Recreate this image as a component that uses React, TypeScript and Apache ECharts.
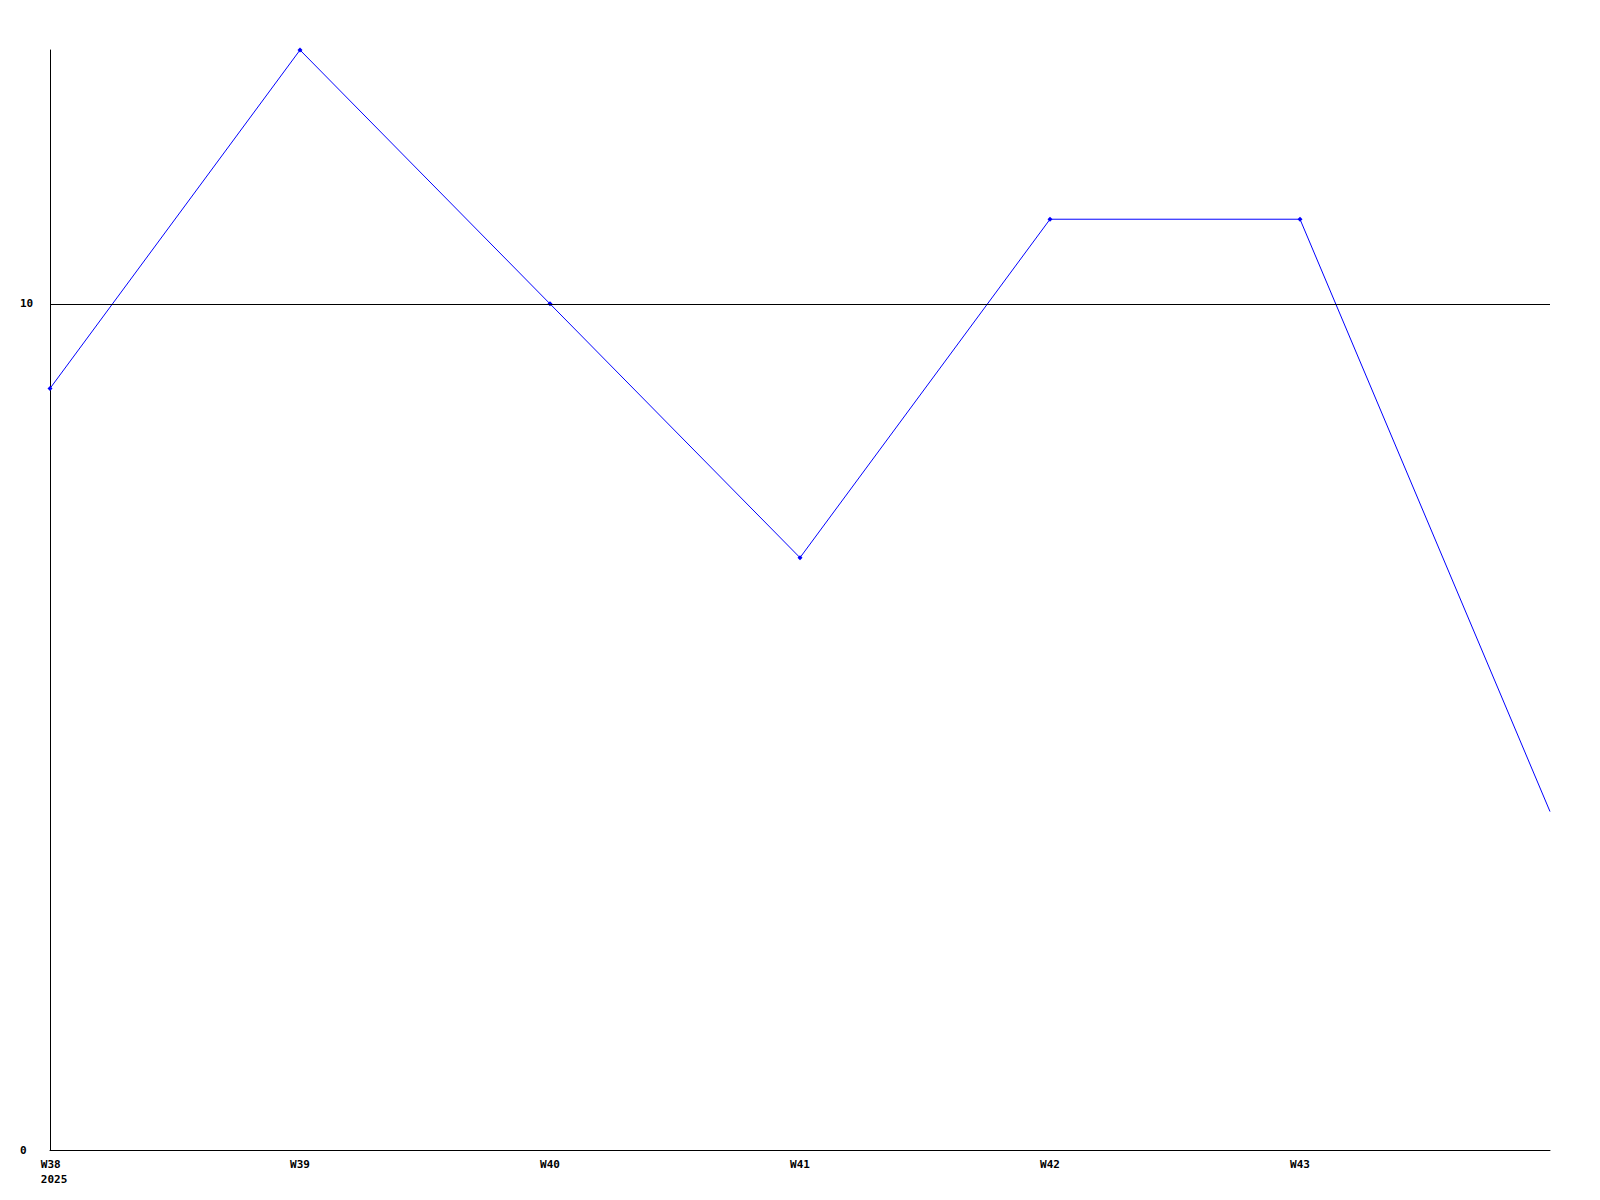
import React, { useEffect, useRef } from "react";
import * as echarts from "echarts";

const weeks = ["W38", "W39", "W40", "W41", "W42", "W43", "W44"];
const values = [9, 13, 10, 7, 11, 11, 4];
const yearLabel = "2025";
const yTicks = [0, 10];
const refLineValue = 10;

export default function App() {
  const ref = useRef<HTMLDivElement>(null);
  useEffect(() => {
    if (!ref.current) return;
    const chart = echarts.init(ref.current, undefined, { renderer: "svg" });
    const font = {
      fontFamily: "DejaVu Sans Mono",
      fontWeight: "bold" as const,
      fontSize: 11,
      color: "#000",
    };
    chart.setOption({
      animation: false,
      backgroundColor: "#fff",
      grid: { left: 50, right: 50, top: 50, bottom: 50, containLabel: false },
      xAxis: {
        type: "category",
        data: weeks,
        boundaryGap: false,
        axisLine: { show: true, lineStyle: { color: "#000", width: 1 } },
        axisTick: { show: false },
        splitLine: { show: false },
        axisLabel: {
          ...font,
          margin: 7,
          lineHeight: 15,
          interval: 0,
          rich: {
            f: { ...font, lineHeight: 15, align: "left", padding: [0, 0, 0, 8] },
          },
          formatter: (v: string, i: number) =>
            i === 0
              ? "{f|" + v + "}\n{f|" + yearLabel + "}"
              : i === weeks.length - 1
              ? ""
              : v,
        },
      },
      yAxis: {
        type: "value",
        min: yTicks[0],
        max: Math.max(...values),
        interval: yTicks[1] - yTicks[0],
        axisLine: { show: true, lineStyle: { color: "#000", width: 1 } },
        axisTick: { show: false },
        splitLine: { show: false },
        axisLabel: {
          ...font,
          margin: 30,
          align: "left",
          showMaxLabel: false,
          formatter: (v: number) => (yTicks.includes(v) ? String(v) : ""),
        },
      },
      series: [
        {
          type: "line",
          data: values.map((v, i) =>
            i === values.length - 1 ? { value: v, symbol: "none" } : v
          ),
          symbol: "diamond",
          symbolSize: 5,
          showSymbol: true,
          lineStyle: { color: "#0000ff", width: 1 },
          itemStyle: { color: "#0000ff" },
          markLine: {
            silent: true,
            symbol: "none",
            label: { show: false },
            lineStyle: { color: "#000", width: 1, type: "solid" },
            data: [{ yAxis: refLineValue }],
          },
        },
      ],
    });
    return () => chart.dispose();
  }, []);
  return (
    <div
      ref={ref}
      style={{ position: "absolute", left: 0, top: 0, width: 1600, height: 1200 }}
    />
  );
}
